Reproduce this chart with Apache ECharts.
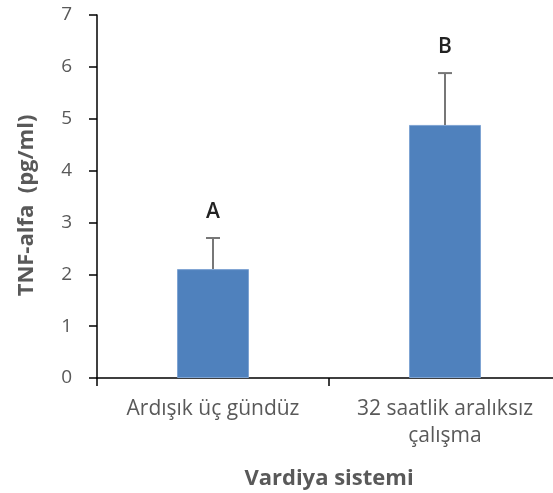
<!DOCTYPE html>
<html>
<head>
<meta charset="utf-8">
<script src="https://cdn.jsdelivr.net/npm/echarts@6/dist/echarts.min.js"></script>
<style>
	html, body { margin: 0; padding: 0; background: #fff; }
	#chart { width: 553px; height: 493px; }
</style>
</head>
<body>
<div id="chart"></div>
<script>
var categories = ['Ardışık üç gündüz', '32 saatlik aralıksız\nçalışma'];
var means = [2.1, 4.88];
var upperErr = [2.7, 5.88];
var groupLetters = ['A', 'B'];
var yTicks = [0, 7, 1]; // min, max, interval

var myChart = echarts.init(document.getElementById('chart'));

// error bar data: [index, mean, upper]
var errData = [];
for (var i = 0; i < categories.length; i++) {
	errData.push([i, means[i], upperErr[i]]);
}

var option = {
	animation: false,
	textStyle: { fontFamily: 'Open Sans' },
	grid: {
		left: 97,
		top: 15,
		width: 464,
		height: 363,
		outerBoundsMode: 'none'
	},
	xAxis: {
		type: 'category',
		data: categories,
		name: 'Vardiya sistemi',
		nameLocation: 'middle',
		nameGap: 90,
		nameTextStyle: {
			fontFamily: 'Open Sans',
			fontWeight: 'bold',
			fontSize: 22,
			color: '#595959'
		},
		axisLine: { lineStyle: { color: '#000', width: 1.5 } },
		axisTick: { show: true, length: 8, lineStyle: { color: '#000', width: 1.5 } },
		axisLabel: {
			interval: 0,
			margin: 18,
			fontFamily: 'Open Sans',
			fontSize: 21,
			lineHeight: 27,
			color: '#595959'
		}
	},
	yAxis: {
		type: 'value',
		min: yTicks[0],
		max: yTicks[1],
		interval: yTicks[2],
		name: 'TNF-alfa  (pg/ml)',
		nameLocation: 'middle',
		nameGap: 59,
		nameTextStyle: {
			fontFamily: 'Open Sans',
			fontWeight: 'bold',
			fontSize: 22,
			color: '#595959',
			padding: [0, 18, 0, 0]
		},
		axisLine: { show: true, lineStyle: { color: '#000', width: 1.5 } },
		axisTick: { show: true, length: 8, lineStyle: { color: '#000', width: 1.5 } },
		splitLine: { show: false },
		axisLabel: {
			margin: 25,
			fontFamily: 'Open Sans',
			fontSize: 19,
			color: '#595959'
		}
	},
	series: [
		{
			type: 'bar',
			data: means,
			barWidth: 72,
			itemStyle: {
				color: '#4F81BD',
				borderColor: '#7FA4D3',
				borderWidth: 1
			}
		},
		{
			type: 'custom',
			data: errData,
			z: 5,
			renderItem: function (params, api) {
				var base = api.coord([api.value(0), api.value(1)]);
				var top = api.coord([api.value(0), api.value(2)]);
				var half = 7;
				var st = { stroke: '#777', lineWidth: 2 };
				return {
					type: 'group',
					children: [
						{ type: 'line', shape: { x1: base[0], y1: base[1], x2: top[0], y2: top[1] }, style: st },
						{ type: 'line', shape: { x1: top[0] - half, y1: top[1], x2: top[0] + half, y2: top[1] }, style: st },
						{
							type: 'text',
							x: top[0],
							y: top[1] - 26,
							style: {
								text: groupLetters[params.dataIndex],
								fill: '#222',
								font: '600 21px "Open Sans"',
								align: 'center',
								verticalAlign: 'middle'
							}
						}
					]
				};
			}
		}
	]
};

myChart.setOption(option);
</script>
</body>
</html>
